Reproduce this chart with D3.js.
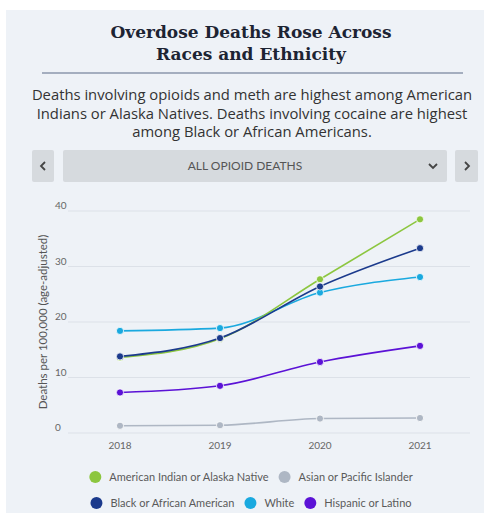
<!DOCTYPE html>
<html>
<head>
<meta charset="utf-8">
<title>Overdose Deaths Rose Across Races and Ethnicity</title>
<script src="https://cdnjs.cloudflare.com/ajax/libs/d3/7.8.5/d3.min.js"></script>
<style>
body {
  margin: 0;
  background: #fff;
  font-family: Lato, "Open Sans", sans-serif;
}
svg { display: block; }
.grid line { stroke: #dce1e8; stroke-width: 1; }
.tick-label { font-size: 10px; fill: #666; }
.legend text { font-size: 11px; fill: #5a5a5a; }
</style>
</head>
<body>
<div id="chart"></div>
<script>
var years = [2018, 2019, 2020, 2021];
var groups = ["American Indian or Alaska Native", "Asian or Pacific Islander",
  "Black or African American", "White", "Hispanic or Latino"];
var colors = ["#8cc63f", "#aeb7c4", "#1b3a8c", "#1aa9df", "#5b12d6"];
var aian = [13.6, 17.0, 27.7, 38.5];
var asian = [1.3, 1.4, 2.6, 2.7];
var black = [13.8, 17.1, 26.4, 33.3];
var white = [18.4, 18.9, 25.3, 28.1];
var hispanic = [7.3, 8.5, 12.8, 15.7];
var yTicks = [0, 10, 20, 30, 40];

// drawing order: back to front
var series = [
  {name: groups[1], color: colors[1], values: asian},
  {name: groups[4], color: colors[4], values: hispanic},
  {name: groups[3], color: colors[3], values: white},
  {name: groups[0], color: colors[0], values: aian},
  {name: groups[2], color: colors[2], values: black}
];

var width = 494, height = 513;

var svg = d3.select("#chart").append("svg")
  .attr("width", width)
  .attr("height", height);

// panel
svg.append("rect")
  .attr("x", 6).attr("y", 10)
  .attr("width", 478).attr("height", height - 10)
  .attr("fill", "#eef2f7");

// title
var title = svg.append("text")
  .attr("text-anchor", "middle")
  .attr("font-family", "'DejaVu Serif', serif")
  .attr("font-weight", "bold")
  .attr("font-size", "17px")
  .attr("fill", "#1d2433");
title.append("tspan").attr("x", 251).attr("y", 38).text("Overdose Deaths Rose Across");
title.append("tspan").attr("x", 251).attr("y", 60).text("Races and Ethnicity");

svg.append("line")
  .attr("x1", 42).attr("x2", 463)
  .attr("y1", 73).attr("y2", 73)
  .attr("stroke", "#5a6a88").attr("stroke-width", 1.2);

// subtitle
var sub = ["Deaths involving opioids and meth are highest among American",
  "Indians or Alaska Natives. Deaths involving cocaine are highest",
  "among Black or African Americans."];
svg.append("g").selectAll("text")
  .data(sub)
  .enter().append("text")
    .attr("x", 252)
    .attr("y", function(d, i) { return 100 + i * 18.5; })
    .attr("text-anchor", "middle")
    .attr("font-family", "'Open Sans', sans-serif")
    .attr("font-size", "14.8px")
    .attr("fill", "#333")
    .text(function(d) { return d; });

// dropdown control
var ctrl = svg.append("g");
ctrl.append("rect").attr("x", 32).attr("y", 150).attr("width", 22).attr("height", 32)
  .attr("rx", 2).attr("fill", "#d6dade");
ctrl.append("rect").attr("x", 63).attr("y", 150).attr("width", 384).attr("height", 32)
  .attr("rx", 2).attr("fill", "#d6dade");
ctrl.append("rect").attr("x", 455).attr("y", 150).attr("width", 23).attr("height", 32)
  .attr("rx", 2).attr("fill", "#d6dade");
ctrl.append("path").attr("d", "M45,162 L41,166 L45,170")
  .attr("fill", "none").attr("stroke", "#444").attr("stroke-width", 1.8);
ctrl.append("path").attr("d", "M465,162 L469,166 L465,170")
  .attr("fill", "none").attr("stroke", "#444").attr("stroke-width", 1.8);
ctrl.append("path").attr("d", "M429,164 L433,168 L437,164")
  .attr("fill", "none").attr("stroke", "#444").attr("stroke-width", 1.8);
ctrl.append("text").attr("x", 245).attr("y", 170)
  .attr("text-anchor", "middle").attr("font-size", "12px").attr("fill", "#555")
  .text("ALL OPIOID DEATHS");

// scales
var x = d3.scalePoint().domain(years).range([120, 420]);
var y = d3.scaleLinear().domain([0, 40]).range([433, 211]);

var grid = svg.append("g").attr("class", "grid");
grid.selectAll("line")
  .data(yTicks)
  .enter().append("line")
    .attr("x1", 68).attr("x2", 470)
    .attr("y1", function(d) { return y(d); })
    .attr("y2", function(d) { return y(d); });

svg.append("g").selectAll("text")
  .data(yTicks)
  .enter().append("text")
    .attr("class", "tick-label")
    .attr("x", 55)
    .attr("y", function(d) { return y(d) - 2; })
    .text(function(d) { return d; });

svg.append("g").selectAll("text")
  .data(years)
  .enter().append("text")
    .attr("class", "tick-label")
    .attr("x", function(d) { return x(d); })
    .attr("y", 449)
    .attr("text-anchor", "middle")
    .text(function(d) { return d; });

svg.append("text")
  .attr("transform", "translate(47,322) rotate(-90)")
  .attr("text-anchor", "middle")
  .attr("font-size", "11.5px")
  .attr("fill", "#555")
  .text("Deaths per 100,000 (age-adjusted)");

// lines
var line = d3.line()
  .x(function(d, i) { return x(years[i]); })
  .y(function(d) { return y(d); })
  .curve(d3.curveMonotoneX);

var s = svg.append("g").selectAll("g")
  .data(series)
  .enter().append("g");

s.append("path")
  .attr("d", function(d) { return line(d.values); })
  .attr("fill", "none")
  .attr("stroke", function(d) { return d.color; })
  .attr("stroke-width", 1.6);

s.selectAll("circle")
  .data(function(d) { return d.values.map(function(v, i) { return {v: v, i: i, color: d.color}; }); })
  .enter().append("circle")
    .attr("cx", function(d) { return x(years[d.i]); })
    .attr("cy", function(d) { return y(d.v); })
    .attr("r", 3.6)
    .attr("fill", function(d) { return d.color; })
    .attr("stroke", "#fff")
    .attr("stroke-width", 0.8);

// legend, two centred rows
var rows = [[0, 1], [2, 3, 4]];
var legend = svg.append("g").attr("class", "legend");
rows.forEach(function(row, r) {
  var g = legend.append("g");
  var cx = 0;
  row.forEach(function(k) {
    g.append("circle").attr("cx", cx + 6).attr("cy", 0).attr("r", 6)
      .attr("fill", colors[k]);
    var t = g.append("text").attr("x", cx + 20).attr("y", 4).text(groups[k]);
    cx += 20 + t.node().getComputedTextLength() + 10;
  });
  var w = cx - 10;
  g.attr("transform", "translate(" + (251 - w / 2) + "," + (477 + r * 26) + ")");
});
</script>
</body>
</html>
